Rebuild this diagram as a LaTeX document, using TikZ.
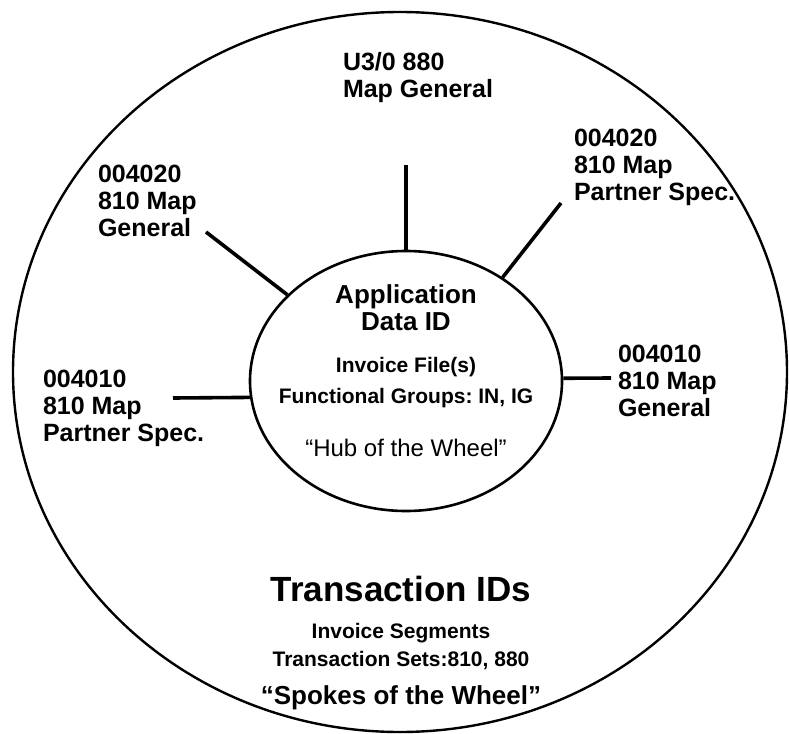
\documentclass[tikz,border=0pt]{standalone}
\usepackage{fontspec}
\setmainfont{Liberation Sans}
\frenchspacing
\usetikzlibrary{positioning, shapes.geometric}
\tikzset{
  every picture/.style={line width=2pt},
  rim/.style={draw, ellipse, line width=2.4pt, minimum width=774pt, minimum height=720pt, inner sep=0pt},
  hub/.style={draw, ellipse, line width=2.6pt, minimum width=312pt, minimum height=260pt, inner sep=0pt},
  spoke/.style={line width=3.6pt},
  maplabel/.style={anchor=north west, align=left, inner sep=0pt, font=\bfseries\fontsize{25}{27}\selectfont},
  hubtext/.style={align=center, inner sep=0pt, font=\bfseries\fontsize{21}{27}\selectfont},
  bigtext/.style={align=center, inner sep=0pt, font=\bfseries\fontsize{26}{27}\selectfont},
}

\begin{document}
\begin{tikzpicture}[x=1pt, y=-1pt]
  \useasboundingbox (0,0) rectangle (789,733);
  % wheel and hub
  \node[rim] (wheel) at (400,372) {};
  \node[hub] (hub) at (406,381) {};
  \node[bigtext, anchor=north] (apptitle) at (406,284) {Application\\Data ID};
  \node[hubtext] (appfiles) at (406,367) {Invoice File(s)};
  \node[hubtext] (appgroups) at (406,398) {Functional Groups: IN, IG};
  \node[inner sep=0pt, font=\fontsize{24}{27}\selectfont] (appnote) at (406,448) {“Hub of the Wheel”};
  % map labels
  \node[maplabel] (mtop) at (342,51) {U3/0 880\\Map General};
  \node[maplabel] (mupleft) at (97,164) {004020\\810 Map\\General};
  \node[maplabel] (mupright) at (573,128) {004020\\810 Map\\Partner Spec.};
  \node[maplabel] (mleft) at (42,369) {004010\\810 Map\\Partner Spec.};
  \node[maplabel] (mright) at (617,344) {004010\\810 Map\\General};
  % spokes
  \coordinate (etop) at (406,165);
  \coordinate (eupleft) at (206,232);
  \coordinate (eupright) at (561,203);
  \coordinate (eleft) at (173,398);
  \coordinate (eright) at (611,378);
  \draw[spoke] (hub.90) -- (etop);
  \draw[spoke] (hub.144) -- (eupleft);
  \draw[spoke] (hub.47) -- (eupright);
  \draw[spoke] (hub.186) -- (eleft);
  \draw[spoke] (hub.1) -- (eright);
  % transactions
  \node[inner sep=0pt, font=\bfseries\fontsize{35}{40}\selectfont] (txid) at (401,589) {Transaction IDs};
  \node[hubtext] (txseg) at (401,633) {Invoice Segments};
  \node[hubtext] (txsets) at (401,661) {Transaction Sets:810, 880};
  \node[bigtext] (txnote) at (401,698) {“Spokes of the Wheel”};
\end{tikzpicture}
\end{document}
